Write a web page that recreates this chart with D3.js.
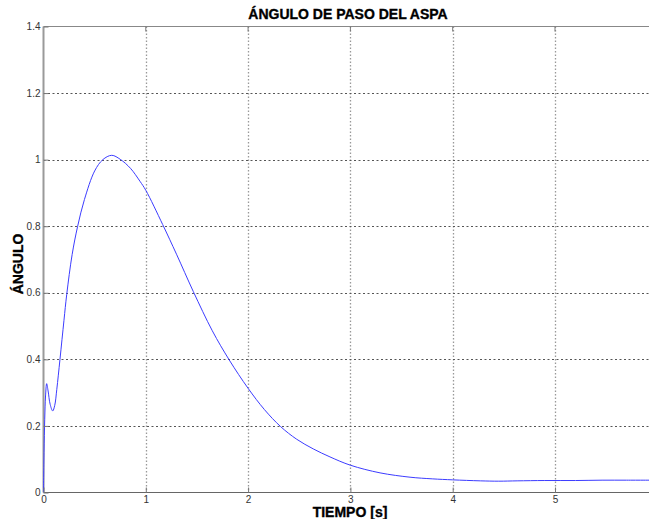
<!DOCTYPE html>
<html>
<head>
<meta charset="utf-8">
<script src="https://cdn.jsdelivr.net/npm/d3@7"></script>
<style>
  html, body { margin: 0; padding: 0; background: #fff; }
  svg { display: block; }
</style>
</head>
<body>
<svg id="chart" width="649" height="519"></svg>
<script>
// Blade pitch angle response over time
const tiempo = [0, 0.005, 0.012, 0.02, 0.031, 0.045, 0.065, 0.09, 0.11, 0.13, 0.161, 0.2, 0.227, 0.28, 0.334, 0.4, 0.5, 0.58, 0.667, 0.75, 0.85, 0.943, 1.0, 1.165, 1.3, 1.464, 1.65, 1.816, 2.0, 2.16, 2.318, 2.475, 2.637, 2.8, 3.0, 3.29, 3.583, 3.8, 4.0, 4.27, 4.45, 4.63, 4.9, 5.2, 5.46, 5.7, 6.0];
const angulo = [0, 0.12, 0.22, 0.29, 0.327, 0.305, 0.265, 0.245, 0.262, 0.31, 0.40, 0.517, 0.595, 0.715, 0.80, 0.88, 0.966, 1.0, 1.013, 1.001, 0.974, 0.935, 0.908, 0.805, 0.716, 0.604, 0.486, 0.398, 0.313, 0.249, 0.198, 0.160, 0.131, 0.107, 0.082, 0.059, 0.046, 0.041, 0.038, 0.035, 0.034, 0.035, 0.036, 0.036, 0.037, 0.037, 0.037];

const xTicks = [0, 1, 2, 3, 4, 5];
const yTicks = [0, 0.2, 0.4, 0.6, 0.8, 1, 1.2, 1.4];
const titulo = "ÁNGULO DE PASO DEL ASPA";
const etiquetaX = "TIEMPO [s]";
const etiquetaY = "ÁNGULO";

const svg = d3.select("#chart");
const plotLeft = 43.5, plotTop = 26.5, plotBottom = 492.5, unitX = 102.3;

const x = d3.scaleLinear().domain([0, 6]).range([plotLeft, plotLeft + 6 * unitX]);
const y = d3.scaleLinear().domain([0, 1.4]).range([plotBottom, plotTop]);

const font = "'Liberation Sans', Arial, sans-serif";

svg.append("defs").append("clipPath").attr("id", "plotclip")
  .append("rect").attr("x", plotLeft - 1).attr("y", plotTop)
  .attr("width", 650 - plotLeft).attr("height", plotBottom - plotTop);

// grid
const grid = svg.append("g");
grid.selectAll("line.gx").data(xTicks.filter(d => d > 0)).join("line")
  .attr("x1", d => Math.round(x(d)) + 0.5).attr("x2", d => Math.round(x(d)) + 0.5)
  .attr("y1", plotTop).attr("y2", plotBottom)
  .attr("stroke", "#999").attr("stroke-width", 1.3)
  .attr("stroke-dasharray", "1.5,2");
grid.selectAll("line.gy").data(yTicks.filter(d => d > 0 && d < 1.4)).join("line")
  .attr("x1", plotLeft).attr("x2", 649)
  .attr("y1", d => Math.round(y(d)) + 0.5).attr("y2", d => Math.round(y(d)) + 0.5)
  .attr("stroke", "#555").attr("stroke-width", 1)
  .attr("stroke-dasharray", "2,2.5");

// frame lines
svg.append("line").attr("x1", plotLeft).attr("x2", 649).attr("y1", plotTop).attr("y2", plotTop)
  .attr("stroke", "#888").attr("stroke-width", 1.2);
svg.append("line").attr("x1", plotLeft).attr("x2", 649).attr("y1", plotBottom).attr("y2", plotBottom)
  .attr("stroke", "#666").attr("stroke-width", 1.2);
svg.append("line").attr("x1", plotLeft).attr("x2", plotLeft).attr("y1", plotTop).attr("y2", plotBottom)
  .attr("stroke", "#9a9a9a").attr("stroke-width", 2);

// curve
const line = d3.line().x((d, i) => x(tiempo[i])).y(d => y(d)).curve(d3.curveCatmullRom.alpha(0.5));
svg.append("path").datum(angulo)
  .attr("clip-path", "url(#plotclip)")
  .attr("d", line)
  .attr("fill", "none").attr("stroke", "#3c3cff").attr("stroke-width", 1);

// axes ticks (inside) and labels
const xAxisB = d3.axisBottom(x).tickValues(xTicks).tickSize(0).tickPadding(0).tickFormat(d3.format("d"));
const gxb = svg.append("g").attr("transform", `translate(0,${plotBottom})`).call(xAxisB);
gxb.select(".domain").remove();
gxb.selectAll("text").attr("y", 3).attr("font-family", font).attr("font-size", 10).attr("fill", "#333");
gxb.selectAll(".tick").append("line").attr("y1", 0).attr("y2", -5).attr("stroke", "#777");

svg.append("g").selectAll("line").data(xTicks.filter(d => d > 0)).join("line")
  .attr("x1", d => x(d)).attr("x2", d => x(d)).attr("y1", plotTop).attr("y2", plotTop + 5)
  .attr("stroke", "#777");

const yAxisL = d3.axisLeft(y).tickValues(yTicks).tickSize(0).tickPadding(3)
  .tickFormat(d => d === 0 ? "0" : d === 1 ? "1" : d3.format(".1f")(d));
const gyl = svg.append("g").attr("transform", `translate(${plotLeft},0)`).call(yAxisL);
gyl.select(".domain").remove();
gyl.selectAll("text").attr("font-family", font).attr("font-size", 10).attr("fill", "#333");
gyl.selectAll(".tick").append("line").attr("x1", 0).attr("x2", 5).attr("stroke", "#777");

// titles
const heavy = sel => sel.attr("font-family", font).attr("font-weight", "bold")
  .attr("font-size", 14).attr("stroke", "#000").attr("stroke-width", 0.35);
svg.append("text").attr("x", 348).attr("y", 19).attr("text-anchor", "middle")
  .call(heavy).text(titulo);
svg.append("text").attr("x", 350).attr("y", 517).attr("text-anchor", "middle")
  .call(heavy).text(etiquetaX);
svg.append("text").attr("transform", "translate(23,264) rotate(-90)").attr("text-anchor", "middle")
  .call(heavy).text(etiquetaY);
</script>
</body>
</html>
